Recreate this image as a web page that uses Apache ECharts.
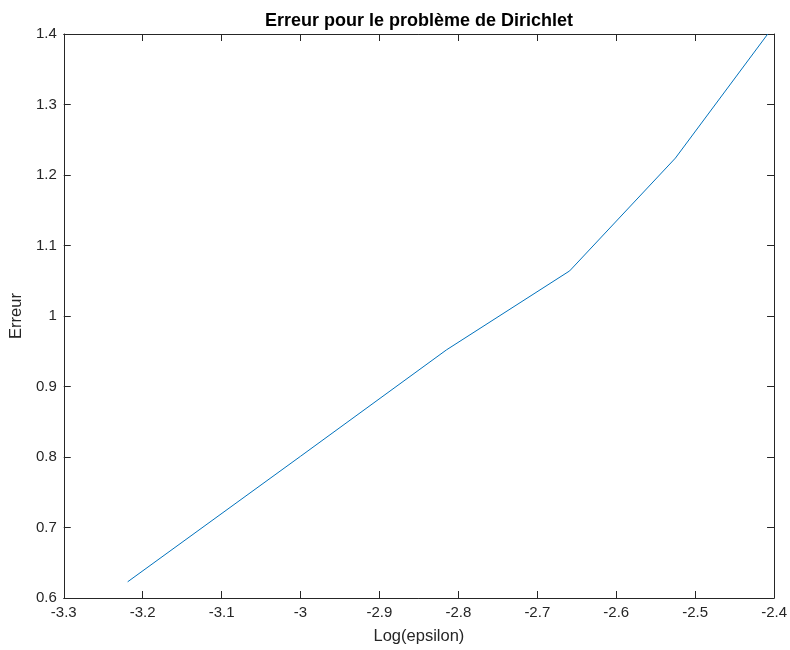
<!DOCTYPE html>
<html>
<head>
<meta charset="utf-8">
<script src="https://cdn.jsdelivr.net/npm/echarts@6/dist/echarts.min.js"></script>
<style>
  html, body { margin: 0; padding: 0; background: #fff; }
  #chart { width: 790px; height: 650px; }
</style>
</head>
<body>
<div id="chart"></div>
<script>
// Error of the Dirichlet problem versus log(epsilon)
const logEpsilon = [-3.219, -3.0, -2.815, -2.659, -2.525, -2.408];
const erreur = [0.623, 0.801, 0.952, 1.064, 1.224, 1.400];

const titleText = 'Erreur pour le problème de Dirichlet';
const xLabel = 'Log(epsilon)';
const yLabel = 'Erreur';

const axisColor = '#262626';
const font = 'Liberation Sans, Arial, Helvetica, sans-serif';

const chart = echarts.init(document.getElementById('chart'), null, { renderer: 'canvas' });

const baseAxis = {
  axisLine: { show: true, onZero: false, lineStyle: { color: axisColor, width: 1 } },
  axisTick: { show: true, inside: true, length: 7, lineStyle: { color: axisColor, width: 1 } },
  splitLine: { show: false },
};

chart.setOption({
  animation: false,
  backgroundColor: '#ffffff',
  title: {
    text: titleText,
    left: 414, top: 7, textAlign: 'center',
    textStyle: { fontFamily: font, fontSize: 18, fontWeight: 'bold', color: '#000' }
  },
  grid: { left: 62, top: 34, width: 714, height: 564 },
  xAxis: [
    Object.assign({}, baseAxis, {
      type: 'value', position: 'bottom', min: -3.3, max: -2.4, interval: 0.1,
      name: xLabel, nameLocation: 'middle', nameGap: 30,
      nameTextStyle: { fontFamily: font, fontSize: 16.5, color: axisColor },
      axisLabel: { show: true, fontFamily: font, fontSize: 15, color: axisColor, margin: 7,
                   showMinLabel: true, showMaxLabel: true }
    }),
    Object.assign({}, baseAxis, {
      type: 'value', position: 'top', min: -3.3, max: -2.4, interval: 0.1,
      axisLabel: { show: false }
    })
  ],
  yAxis: [
    Object.assign({}, baseAxis, {
      type: 'value', position: 'left', min: 0.6, max: 1.4, interval: 0.1,
      name: yLabel, nameLocation: 'middle', nameGap: 38, nameRotate: 90,
      nameTextStyle: { fontFamily: font, fontSize: 16.5, color: axisColor },
      axisLabel: { show: true, fontFamily: font, fontSize: 15, color: axisColor, margin: 7,
                   showMinLabel: true, showMaxLabel: true }
    }),
    Object.assign({}, baseAxis, {
      type: 'value', position: 'right', min: 0.6, max: 1.4, interval: 0.1,
      axisLabel: { show: false }
    })
  ],
  series: [{
    type: 'line',
    data: logEpsilon.map((x, i) => [x, erreur[i]]),
    showSymbol: false,
    symbol: 'none',
    lineStyle: { color: '#0072BD', width: 1 },
    clip: true
  }]
});
</script>
</body>
</html>
